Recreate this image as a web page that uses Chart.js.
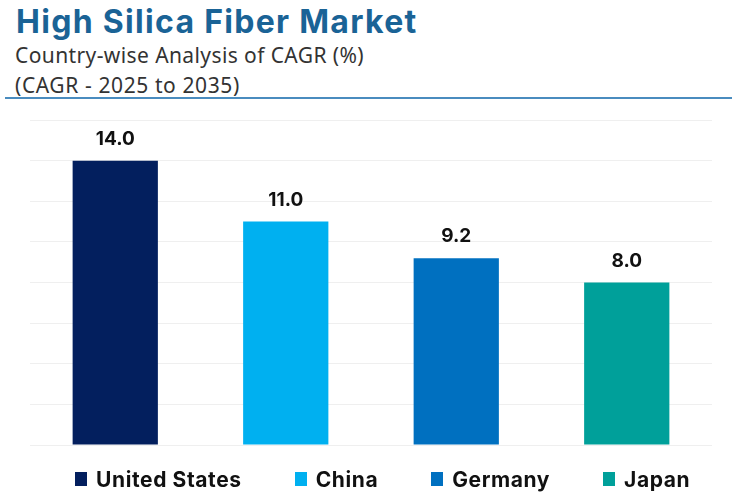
<!DOCTYPE html>
<html>
<head>
<meta charset="utf-8">
<script src="https://cdn.jsdelivr.net/npm/chart.js@4.4.1/dist/chart.umd.min.js"></script>
<style>
  html, body { margin: 0; padding: 0; background: #ffffff; width: 732px; height: 496px; overflow: hidden; }
  #hdr { position: absolute; left: 0; top: 0; width: 732px; height: 100px; }
  #title { position: absolute; left: 16px; top: 2px; font-family: Inter, "Noto Sans", sans-serif; font-weight: 700; font-size: 32px; color: #1a6396; letter-spacing: 1.3px; white-space: nowrap; line-height: 40px; }
  #sub1 { position: absolute; left: 15px; top: 41px; font-family: "Noto Sans", sans-serif; font-size: 21px; color: #333333; letter-spacing: 0.4px; white-space: nowrap; line-height: 28px; }
  #sub2 { position: absolute; left: 15px; top: 71px; font-family: "Noto Sans", sans-serif; font-size: 21px; color: #333333; letter-spacing: 0.6px; white-space: nowrap; line-height: 28px; }
  #rule { position: absolute; left: 5px; top: 97px; width: 727px; height: 2px; background: #4a8cbf; }
  #wrap { position: absolute; left: 0; top: 100px; width: 732px; height: 396px; }
  #legend { position: absolute; left: 75px; top: 466px; height: 26px; display: flex; align-items: center; gap: 53px; font-family: Inter, "Noto Sans", sans-serif; font-weight: 700; font-size: 21px; letter-spacing: 0.6px; color: #111111; white-space: nowrap; }
  .item { display: flex; align-items: center; }
  .box { width: 12px; height: 14px; margin-right: 9px; }
</style>
</head>
<body>
<div id="hdr">
  <div id="title">High Silica Fiber Market</div>
  <div id="sub1">Country-wise Analysis of CAGR (%)</div>
  <div id="sub2">(CAGR - 2025 to 2035)</div>
  <div id="rule"></div>
</div>
<div id="wrap"><canvas id="c" width="732" height="396"></canvas></div>
<div id="legend"></div>
<script>
const categories = ["United States", "China", "Germany", "Japan"];
const cagrValues = [14.0, 11.0, 9.2, 8.0];
const barColors = ["#031f5e", "#00b0f0", "#0070c0", "#00a09a"];
const yTicks = [0, 2, 4, 6, 8, 10, 12, 14, 16];

const valueLabels = {
  id: 'valueLabels',
  afterDatasetsDraw(chart) {
    const ctx = chart.ctx;
    const meta = chart.getDatasetMeta(0);
    ctx.save();
    ctx.font = '700 19px Inter, "Noto Sans", sans-serif';
    ctx.fillStyle = '#111111';
    ctx.textAlign = 'center';
    ctx.textBaseline = 'bottom';
    meta.data.forEach((bar, i) => {
      ctx.fillText(cagrValues[i].toFixed(1), bar.x, bar.y - 12);
    });
    ctx.restore();
  }
};

const chart = new Chart(document.getElementById('c'), {
  type: 'bar',
  data: {
    labels: categories,
    datasets: [{
      data: cagrValues,
      backgroundColor: barColors,
      borderWidth: 0,
      barPercentage: 0.5,
      categoryPercentage: 1.0
    }]
  },
  options: {
    responsive: false,
    animation: false,
    layout: { padding: { left: 30, right: 20, top: 20, bottom: 43 } },
    plugins: {
      tooltip: { enabled: false },
      legend: { display: false }
    },
    scales: {
      x: {
        grid: { display: false },
        border: { display: false },
        ticks: { display: false }
      },
      y: {
        min: 0,
        max: 16,
        afterBuildTicks(axis) { axis.ticks = yTicks.map(v => ({ value: v })); },
        grid: { color: '#efefef', lineWidth: 1, drawTicks: false },
        border: { display: false },
        ticks: { display: false }
      }
    }
  },
  plugins: [valueLabels]
});

// HTML legend built from the chart's data
const legendEl = document.getElementById('legend');
chart.data.labels.forEach((lab, i) => {
  const item = document.createElement('div');
  item.className = 'item';
  const box = document.createElement('span');
  box.className = 'box';
  box.style.background = chart.data.datasets[0].backgroundColor[i];
  const txt = document.createElement('span');
  txt.textContent = lab;
  item.appendChild(box);
  item.appendChild(txt);
  legendEl.appendChild(item);
});
</script>
</body>
</html>
